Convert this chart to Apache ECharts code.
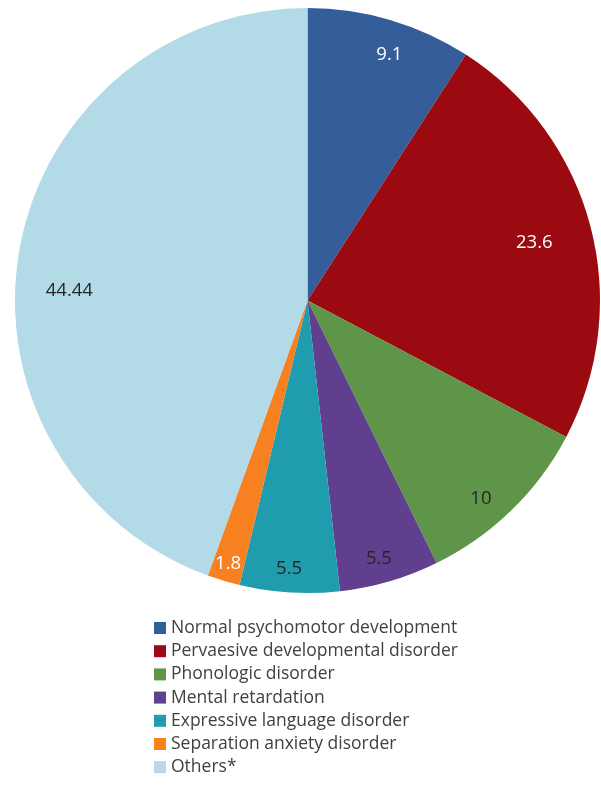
<!DOCTYPE html>
<html>
<head>
<meta charset="utf-8">
<script src="https://cdn.jsdelivr.net/npm/echarts@6/dist/echarts.min.js"></script>
<style>
html,body{margin:0;padding:0;background:#fff;}
#chart{width:601px;height:786px;}
</style>
</head>
<body>
<div id="chart"></div>
<script>
// ---- data ----
var categories = [
  'Normal psychomotor development',
  'Pervaesive developmental disorder',
  'Phonologic disorder',
  'Mental retardation',
  'Expressive language disorder',
  'Separation anxiety disorder',
  'Others*'
];
var values = [9.1, 23.6, 10, 5.5, 5.5, 1.8, 44.44];

// ---- style ----
var colors = ['#345D9A', '#9A0A10', '#5F9548', '#5F3F8E', '#1F9CAE', '#F78020', '#B3DAE7'];
var labelColors = ['#ffffff', '#ffffff', '#262626', '#262626', '#262626', '#ffffff', '#262626'];
var labelRadiusFrac = [0.887, 0.80, 0.90, 0.915, 0.92, 0.94, 0.815];
var labelAngleShift = [2, 0.5, 3, 0.8, 0.4, 0.1, -7.5];

var CX = 307.5, CY = 300.5, R = 292.5;

var total = values.reduce(function (a, b) { return a + b; }, 0);
var cum = [];
var acc = 0;
for (var i = 0; i < values.length; i++) { cum.push(acc); acc += values[i]; }

var chart = echarts.init(document.getElementById('chart'), null, {renderer: 'canvas'});
var FONT = '"Open Sans", "Noto Sans", sans-serif';

var option = {
  animation: false,
  color: colors,
  legend: {
    orient: 'vertical',
    left: 154,
    top: 616.5,
    height: 180,
    padding: 0,
    itemWidth: 12,
    itemHeight: 12,
    itemGap: 0.2,
    icon: 'rect',
    data: categories,
    textStyle: { fontFamily: FONT, fontSize: 17.5, color: '#404040', lineHeight: 23 }
  },
  series: [{
    type: 'pie',
    center: [CX, CY],
    radius: [0, R],
    startAngle: 90,
    clockwise: true,
    silent: true,
    itemStyle: { borderWidth: 0 },
    label: {
      show: true,
      position: 'inside',
      fontFamily: FONT,
      fontSize: 18.5,
      formatter: function (p) { return String(values[p.dataIndex]); }
    },
    labelLine: { show: false },
    labelLayout: function (p) {
      var i = p.dataIndex;
      var midDeg = (cum[i] + values[i] / 2) / total * 360 + labelAngleShift[i];
      var a = midDeg * Math.PI / 180;
      var d = labelRadiusFrac[i] * R;
      return {
        x: CX + d * Math.sin(a),
        y: CY - d * Math.cos(a),
        align: 'center',
        verticalAlign: 'middle'
      };
    },
    data: categories.map(function (c, i) {
      return { name: c, value: values[i], label: { color: labelColors[i] } };
    })
  }]
};
chart.setOption(option);
</script>
</body>
</html>
